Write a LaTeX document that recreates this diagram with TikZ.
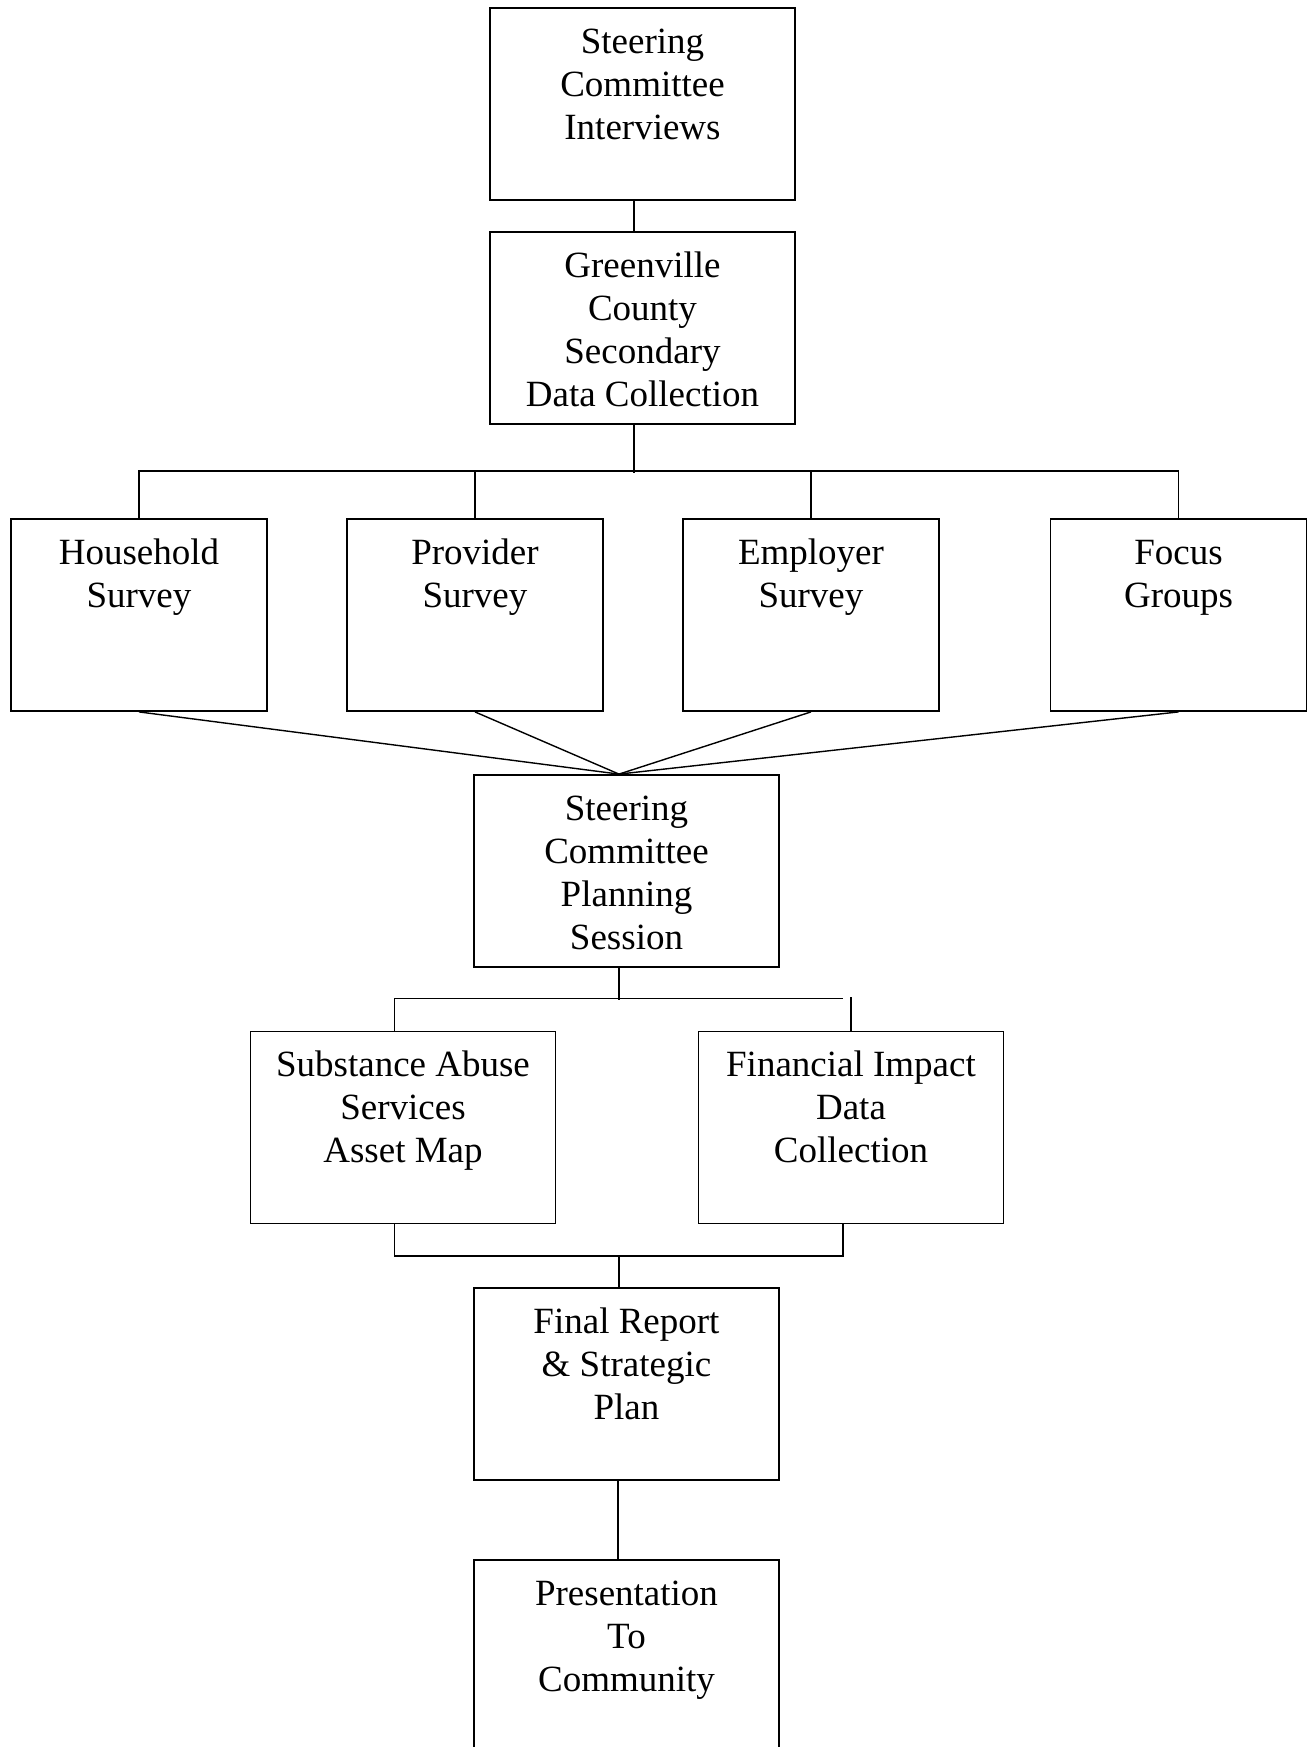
\documentclass[tikz,border=0pt]{standalone}
\usepackage{fontspec}
\setmainfont{Liberation Serif}

\tikzset{
    stage/.style={draw=black, rectangle, inner sep=0pt, line width=0.9pt},
    link/.style={-, line width=0.7pt}
}
% box text: width, height, lines (first baseline fixed below the top edge)
\newcommand{\stagetext}[3]{\parbox[c][#2][t]{#1}{\centering\rule{0pt}{22.5pt}#3}}
\newcommand{\wide}[1]{\stagetext{152.5pt}{96pt}{#1}}
\newcommand{\narrow}[1]{\stagetext{128pt}{96pt}{#1}}

\begin{document}
\begin{tikzpicture}[x=0.5pt, y=-0.5pt, font=\fontsize{18.5}{21.5}\selectfont]
\useasboundingbox (0,0) rectangle (1309,1747);

%%%%%%%%%%%%%%%%%%%% Top steps %%%%%%%%%%%%%%%%%%%%%%%%%%
\node[stage] (sci) at (642.5,104) {\wide{Steering\\Committee\\Interviews}};
\node[stage] (gcs) at (642.5,328) {\wide{Greenville\\County\\Secondary\\Data Collection}};

\draw[link] ([xshift=-4.25pt]sci.south) -- ([xshift=-4.25pt]gcs.north);

%%%%%%%%%%%%%%%%%%%% Surveys %%%%%%%%%%%%%%%%%%%%%%%%%%
\node[stage] (hh) at (139,615) {\narrow{Household\\Survey}};
\node[stage] (pv) at (475,615) {\narrow{Provider\\Survey}};
\node[stage] (em) at (811,615) {\narrow{Employer\\Survey}};
\node[stage] (fg) at (1178.5,615) {\narrow{Focus\\Groups}};

\draw[link] ([xshift=-4.25pt]gcs.south) -- ++(0,48);
\draw[link] (hh.north) -- ++(0,-47) -| (fg.north);
\draw[link] (pv.north) -- ++(0,-47);
\draw[link] (em.north) -- ++(0,-47);

%%%%%%%%%%%%%%%%%%%% Planning %%%%%%%%%%%%%%%%%%%%%%%%%%
\node[stage] (pl) at (626.5,871) {\wide{Steering\\Committee\\Planning\\Session}};
\coordinate (meet) at ([xshift=-3.75pt]pl.north);

%fan into the planning session
\foreach \n in {hh, pv, em, fg}
{
    \draw[link] (\n.south) -- (meet);
}

%%%%%%%%%%%%%%%%%%%% Asset map / impact %%%%%%%%%%%%%%%%%%%%%%%%%%
\node[stage] (sam) at (403,1127.5) {\wide{Substance Abuse\\Services\\Asset Map}};
\node[stage] (fic) at (851,1127.5) {\wide{Financial Impact\\Data\\Collection}};

\draw[link] ([xshift=-3.75pt]pl.south) -- ++(0,32);
\draw[link] ([xshift=-4.25pt]sam.north) -- ++(0,-32) -- ++(448.5,0);
\draw[link] (fic.north) -- ++(0,-34);
\draw[link] ([xshift=-4.25pt]sam.south) -- ++(0,31.5) -| ([xshift=-4pt]fic.south);

%%%%%%%%%%%%%%%%%%%% Final steps %%%%%%%%%%%%%%%%%%%%%%%%%%
\node[stage] (fin) at (626.5,1384) {\wide{Final Report\\\& Strategic\\Plan}};
\node[stage] (pres) at (626.5,1656) {\wide{Presentation\\To\\Community}};

\draw[link] ([xshift=-3.75pt]fin.north) -- ++(0,-32);
\draw[link] ([xshift=-4.25pt]fin.south) -- ([xshift=-4.25pt]pres.north);

\end{tikzpicture}
\end{document}
